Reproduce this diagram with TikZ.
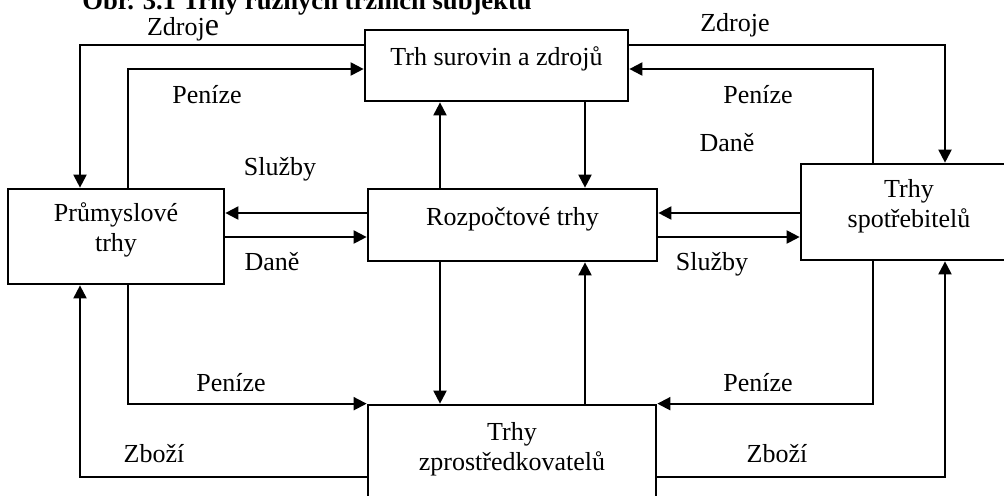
\documentclass[tikz,border=0pt]{standalone}
\usepackage{fontspec}
\setmainfont{Liberation Serif}
\usetikzlibrary{arrows.meta}
\tikzset{
  >={Triangle[length=6.5pt,width=6.5pt]},
}
\tikzstyle{every node}=[font=\fontsize{13}{15}\selectfont]
\tikzstyle{trh}=[draw,line width=1.35pt,inner sep=0pt,align=center,text height=7pt,text depth=7pt]
\tikzstyle{trh2}=[trh,text height=22pt,text depth=7pt]
\tikzstyle{tok}=[line width=1pt,->]
\tikzstyle{popis}=[anchor=base,inner sep=0pt]

\begin{document}
\begin{tikzpicture}[x=0.5pt,y=-0.5pt]
    \useasboundingbox (0,0) rectangle (1004,495);
    \clip (0,0) rectangle (1004,495);
    \node[popis,font=\fontsize{13.3}{15}\selectfont\bfseries,anchor=base west] (titul) at (82,9) {Obr. 3.1 Trhy různých tržních subjektů};
    % trhy
    \node[trh,minimum width=131.5pt,minimum height=35.5pt] (sur) at (496.5,65.5) {Trh surovin a zdrojů};
    \node[trh2,minimum width=108pt,minimum height=47.5pt] (prum) at (116,236.5) {Průmyslové\\trhy};
    \node[trh,minimum width=144.5pt,minimum height=36pt] (rozp) at (512.5,225) {Rozpočtové trhy};
    \node[trh2,minimum width=108pt,minimum height=48pt] (spot) at (909,212) {Trhy\\spotřebitelů};
    \node[trh2,minimum width=144pt,minimum height=50pt] (zpro) at (512,455) {Trhy\\zprostředkovatelů};
    % pomocne body
    \coordinate (c1) at (80,45);
    \coordinate (c2) at (128,69);
    \coordinate (c3) at (945,45);
    \coordinate (c4) at (873,69);
    \coordinate (c5) at (128,405);
    \coordinate (c6) at (80,477);
    \coordinate (c7) at (873,405);
    \coordinate (c8) at (945,477);
    \coordinate (ml) at (440,0);
    \coordinate (mr) at (585,0);
    \coordinate (h1) at (0,213);
    \coordinate (h2) at (0,237);
    % toky
    \draw[tok] (sur.west |- c1) -| (prum.north -| c1);
    \draw[tok] (prum.north -| c2) |- (sur.west |- c2);
    \draw[tok] (sur.east |- c3) -| (spot.north -| c3);
    \draw[tok] (spot.north -| c4) |- (sur.east |- c4);
    \draw[tok] (rozp.north -| ml) -- (sur.south -| ml);
    \draw[tok] (sur.south -| mr) -- (rozp.north -| mr);
    \draw[tok] (rozp.south -| ml) -- (zpro.north -| ml);
    \draw[tok] (zpro.north -| mr) -- (rozp.south -| mr);
    \draw[tok] (rozp.west |- h1) -- (prum.east |- h1);
    \draw[tok] (prum.east |- h2) -- (rozp.west |- h2);
    \draw[tok] (spot.west |- h1) -- (rozp.east |- h1);
    \draw[tok] (rozp.east |- h2) -- (spot.west |- h2);
    \draw[tok] (prum.south -| c5) |- (zpro.north west);
    \draw[tok] (zpro.west |- c6) -| (prum.south -| c6);
    \draw[tok] (spot.south -| c7) |- (zpro.north east);
    \draw[tok] (zpro.east |- c8) -| (spot.south -| c8);
    % popisy
    \node[popis] (zdr1) at (183,35) {Zdroj{\fontsize{16}{18}\selectfont e}};
    \node[popis] (pen1) at (207,103) {Peníze};
    \node[popis] (zdr2) at (735,31) {Zdroje};
    \node[popis] (pen2) at (758,103) {Peníze};
    \node[popis] (dan1) at (727,151) {Daně};
    \node[popis] (slu1) at (280,175) {Služby};
    \node[popis] (dan2) at (272,270) {Daně};
    \node[popis] (slu2) at (712,270) {Služby};
    \node[popis] (pen3) at (231,391) {Peníze};
    \node[popis] (zbo1) at (154,462) {Zboží};
    \node[popis] (pen4) at (758,391) {Peníze};
    \node[popis] (zbo2) at (777,462) {Zboží};
\end{tikzpicture}
\end{document}
